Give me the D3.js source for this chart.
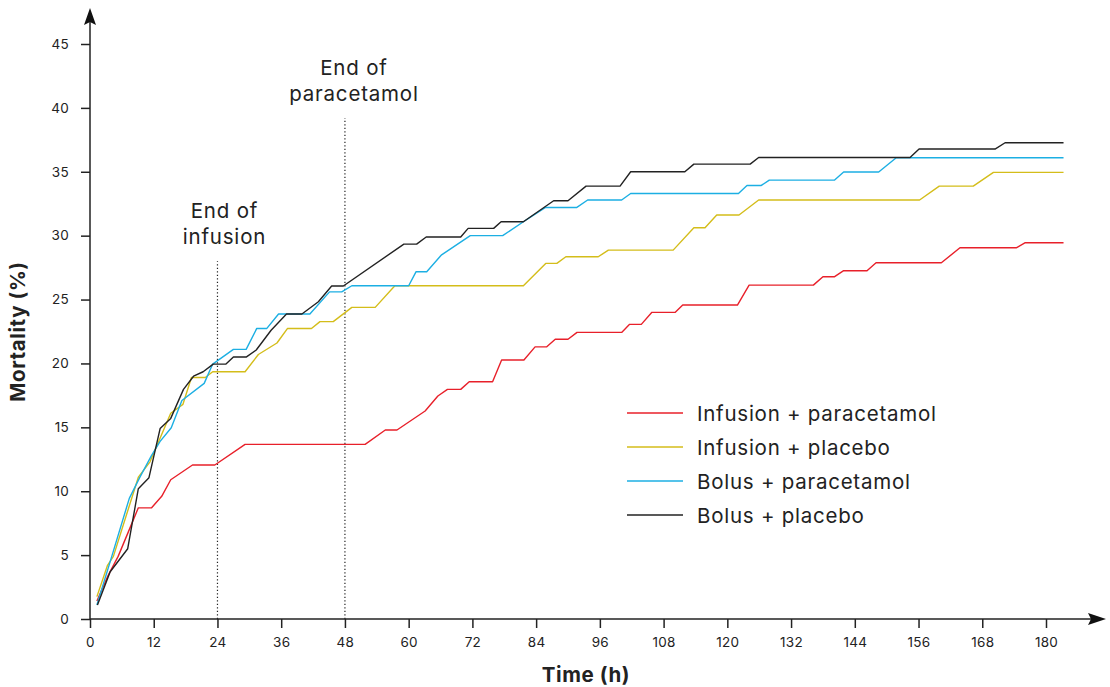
<!DOCTYPE html>
<html>
<head>
<meta charset="utf-8">
<script src="https://cdn.jsdelivr.net/npm/d3@7/dist/d3.min.js"></script>
<style>
  body { margin: 0; background: #fff; }
  text { font-family: Inter, "Noto Sans", sans-serif; fill: #222; }
</style>
</head>
<body>
<div id="chart"></div>
<script>
// hours after randomisation vs cumulative mortality (%)
var infusionParacetamol = [[1.3,1.4],[3.4,3.4],[5.3,4.9],[7.2,6.8],[9.1,8.7],[11.6,8.7],[13.5,9.6],[15.2,10.9],[19.3,12.05],[23.5,12.05],[29.2,13.67],[51.8,13.67],[55.6,14.79],[57.8,14.79],[63.1,16.28],[65.5,17.45],[67.3,17.97],[69.8,17.97],[71.4,18.57],[75.8,18.57],[77.5,20.27],[81.7,20.27],[83.8,21.3],[86,21.3],[87.6,21.89],[90,21.89],[91.7,22.43],[100.1,22.43],[101.6,23.06],[103.8,23.06],[105.8,24.0],[110.2,24.0],[111.6,24.57],[121.9,24.57],[124.1,26.13],[136.2,26.13],[138,26.79],[140.2,26.79],[141.9,27.26],[146.3,27.26],[148,27.88],[160.3,27.88],[163.8,29.05],[174.4,29.05],[176.1,29.45],[183.3,29.45]];
var infusionPlacebo = [[1.3,1.75],[3.3,4.2],[4.4,4.9],[9.1,11.1],[11.3,12.3],[15.2,16.1],[17.5,16.8],[19.1,18.9],[21.7,18.9],[23.1,19.35],[29.2,19.35],[31.7,20.7],[35.2,21.6],[37.2,22.74],[41.7,22.74],[43.3,23.27],[45.8,23.27],[49.3,24.39],[53.7,24.39],[57.4,26.08],[81.6,26.08],[85.8,27.83],[87.9,27.83],[89.6,28.35],[95.7,28.35],[97.6,28.87],[109.8,28.87],[113.7,30.62],[115.8,30.62],[118,31.62],[122.2,31.62],[125.9,32.79],[156.2,32.79],[159.9,33.88],[166.3,33.88],[170.1,34.95],[183.3,34.95]];
var bolusParacetamol = [[1.3,1.1],[4.1,4.9],[7.4,9.44],[9.4,11.1],[11.6,12.8],[13.2,13.9],[15.3,14.97],[17.3,17.1],[21.5,18.44],[23.1,19.95],[27,21.1],[29.4,21.1],[31.4,22.74],[33.3,22.74],[35.5,23.87],[41.4,23.87],[45.1,25.6],[47.4,25.6],[49.3,26.08],[60,26.08],[61.4,27.18],[63.4,27.18],[66.2,28.5],[71.6,30.0],[77.7,30.0],[81.6,31.09],[85.7,32.2],[91.6,32.2],[93.7,32.79],[100.1,32.79],[101.8,33.3],[122.1,33.3],[123.7,33.93],[126.4,33.93],[127.9,34.35],[140.2,34.35],[141.9,34.98],[148.5,34.98],[151.8,36.1],[183.3,36.1]];
var bolusPlacebo = [[1.4,1.1],[3.8,3.7],[7.1,5.5],[9.1,10.2],[11.1,11.06],[13.2,14.9],[15.2,15.7],[17.6,17.97],[19.5,19.0],[21.3,19.35],[23.2,19.95],[25.6,19.95],[27,20.5],[29.4,20.5],[31.3,21.05],[34.1,22.6],[37,23.87],[39.9,23.87],[43,24.83],[45.5,26.06],[47.7,26.06],[59.1,29.34],[61.5,29.34],[63.3,29.9],[69.8,29.9],[71.2,30.57],[76,30.57],[77.4,31.09],[81.6,31.09],[87.3,32.73],[90,32.73],[93.4,33.88],[99.8,33.88],[101.8,35.0],[112,35.0],[113.7,35.6],[124.3,35.6],[125.9,36.12],[154.4,36.12],[156.1,36.78],[170.4,36.78],[172.3,37.27],[183.3,37.27]];

var seriesNames = ["Infusion + paracetamol", "Infusion + placebo", "Bolus + paracetamol", "Bolus + placebo"];
var seriesColors = ["#e8202a", "#d4bd1a", "#1cafe3", "#222222"];
var xTicks = [0, 12, 24, 36, 48, 60, 72, 84, 96, 108, 120, 132, 144, 156, 168, 180];
var yTicks = [0, 5, 10, 15, 20, 25, 30, 35, 40, 45];
// vertical markers: [hour, top of dotted line (%), label lines]
var markers = [[24, 28, ["End of", "infusion"]], [48, 39.2, ["End of", "paracetamol"]]];

var width = 1110, height = 687;
var svg = d3.select("#chart").append("svg")
    .attr("width", width)
    .attr("height", height);

var x = d3.scaleLinear().domain([0, 180]).range([90, 1046]);
var y = d3.scaleLinear().domain([0, 45]).range([619, 44]);

// axes
var xAxis = svg.append("g")
    .attr("transform", "translate(0," + y(0) + ")")
    .call(d3.axisBottom(x).tickValues(xTicks).tickSize(9).tickPadding(9));
var yAxis = svg.append("g")
    .attr("transform", "translate(" + x(0) + ",0)")
    .call(d3.axisLeft(y).tickValues(yTicks).tickSize(9).tickPadding(12));

[xAxis, yAxis].forEach(function(ax) {
    ax.select(".domain").remove();
    ax.selectAll("line").attr("stroke", "#222").attr("stroke-width", 1.5);
    ax.selectAll("text").attr("font-size", "13.5px").attr("fill", "#333")
        .style("font-family", "Inter, 'Noto Sans', sans-serif")
        .style("letter-spacing", "0.3px");
});

// axis lines with arrowheads
svg.append("line").attr("x1", x(0)).attr("x2", 1092).attr("y1", y(0)).attr("y2", y(0))
    .attr("stroke", "#222").attr("stroke-width", 1.5);
svg.append("path").attr("d", "M1106," + y(0) + "L1088," + (y(0) - 6) + "L1091," + y(0) + "L1088," + (y(0) + 6) + "Z")
    .attr("fill", "#111");
svg.append("line").attr("x1", x(0)).attr("x2", x(0)).attr("y1", y(0)).attr("y2", 22)
    .attr("stroke", "#222").attr("stroke-width", 1.5);
svg.append("path").attr("d", "M" + x(0) + ",8L" + (x(0) - 6) + ",25L" + x(0) + ",22L" + (x(0) + 6) + ",25Z")
    .attr("fill", "#111");

// axis titles
svg.append("text")
    .attr("transform", "translate(25," + ((y(0) + y(45)) / 2) + ") rotate(-90)")
    .attr("text-anchor", "middle")
    .attr("font-size", "20.5px")
    .attr("font-weight", "bold")
    .style("letter-spacing", "0.6px")
    .text("Mortality (%)");
svg.append("text")
    .attr("x", 586).attr("y", 682)
    .attr("text-anchor", "middle")
    .attr("font-size", "20.5px")
    .attr("font-weight", "bold")
    .style("letter-spacing", "0.6px")
    .text("Time (h)");

// marker lines
markers.forEach(function(m, i) {
    svg.append("line")
        .attr("x1", x(m[0])).attr("x2", x(m[0]))
        .attr("y1", y(0)).attr("y2", y(m[1]))
        .attr("stroke", "#222").attr("stroke-width", 1.2)
        .attr("stroke-dasharray", "1.2,2.3");
    var t = svg.append("text")
        .attr("text-anchor", "middle")
        .attr("font-size", "20.5px")
        .style("letter-spacing", "0.8px");
    m[2].forEach(function(s, j) {
        t.append("tspan")
            .attr("x", x(m[0]) + (i === 0 ? 7 : 9))
            .attr("y", y(m[1]) - 43 + j * 26)
            .text(s);
    });
});

// series
var line = d3.line()
    .x(function(d) { return x(d[0]); })
    .y(function(d) { return y(d[1]); });
var allSeries = [infusionParacetamol, infusionPlacebo, bolusParacetamol, bolusPlacebo];
allSeries.forEach(function(s, i) {
    svg.append("path")
        .datum(s)
        .attr("fill", "none")
        .attr("stroke", seriesColors[i])
        .attr("stroke-width", 1.4)
        .attr("stroke-linejoin", "round")
        .attr("d", line);
});

// legend
var legend = svg.append("g").attr("transform", "translate(627,413)");
seriesNames.forEach(function(name, i) {
    var g = legend.append("g").attr("transform", "translate(0," + (i * 34) + ")");
    g.append("line").attr("x1", 0).attr("x2", 56).attr("y1", 0).attr("y2", 0)
        .attr("stroke", seriesColors[i]).attr("stroke-width", 1.5);
    g.append("text").attr("x", 70).attr("y", 7.5)
        .attr("font-size", "20.5px")
        .style("letter-spacing", "0.75px")
        .text(name);
});
</script>
</body>
</html>
